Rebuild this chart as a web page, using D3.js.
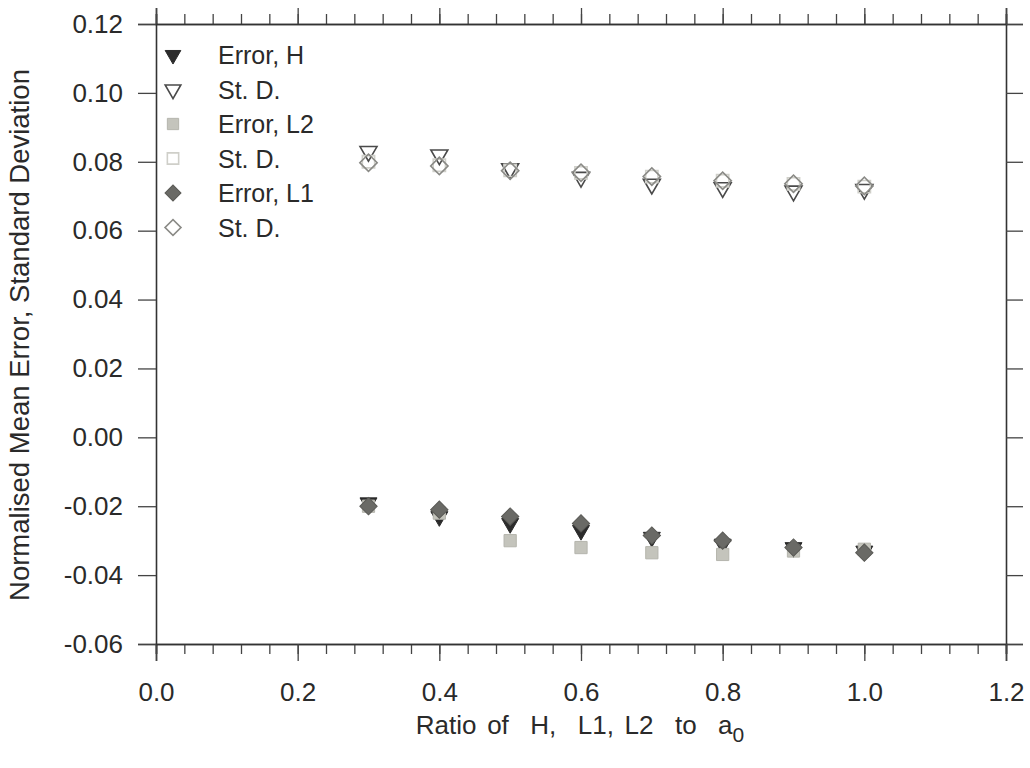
<!DOCTYPE html>
<html>
<head>
<meta charset="utf-8">
<script src="https://cdn.jsdelivr.net/npm/d3@7"></script>
<style>
  html, body { margin: 0; padding: 0; background: #ffffff; }
  svg text { font-family: "Liberation Sans", Arial, sans-serif; fill: #2a2a2a; }
</style>
</head>
<body>
<svg id="chart" width="1030" height="768"></svg>
<script>
// Ratio of H, L1, L2 to a0
const ratios = [0.3, 0.4, 0.5, 0.6, 0.7, 0.8, 0.9, 1.0];

// Normalised mean error and standard deviation per geometry parameter
const errorH  = [-0.019, -0.023, -0.025, -0.027, -0.029, -0.031, -0.032, -0.033];
const stdH    = [0.083, 0.082, 0.078, 0.0755, 0.0735, 0.0725, 0.0715, 0.072];
const errorL2 = [-0.020, -0.022, -0.030, -0.032, -0.0335, -0.034, -0.033, -0.0325];
const stdL2   = [0.080, 0.079, 0.0775, 0.0768, 0.0757, 0.0745, 0.0736, 0.0728];
const errorL1 = [-0.020, -0.021, -0.023, -0.025, -0.0285, -0.030, -0.032, -0.0335];
const stdL1   = [0.0797, 0.0788, 0.0774, 0.0768, 0.0757, 0.0745, 0.0736, 0.073];

const xTicks = [0.0, 0.2, 0.4, 0.6, 0.8, 1.0, 1.2];
const yTicks = [0.12, 0.10, 0.08, 0.06, 0.04, 0.02, 0.00, -0.02, -0.04, -0.06];

const legendLabels = ["Error, H", "St. D.", "Error, L2", "St. D.", "Error, L1", "St. D."];

const svg = d3.select("#chart");
const plotLeft = 156, plotRight = 1006, plotTop = 24, plotBottom = 644;

const x = d3.scaleLinear().domain([0, 1.2]).range([plotLeft, plotRight]);
const y = d3.scaleLinear().domain([-0.06, 0.12]).range([plotBottom, plotTop]);

const minorX = d3.range(0, 1.2001, 0.04);

// Axes: ticks point outward on all four sides
function styleAxis(g) {
  g.select(".domain").attr("stroke", "#333").attr("stroke-width", 1.6);
  g.selectAll(".tick line").attr("stroke", "#444").attr("stroke-width", 1.3);
}

// bottom
svg.append("g").attr("transform", `translate(0,${plotBottom})`)
  .call(d3.axisBottom(x).tickValues(minorX).tickSize(10).tickFormat(""))
  .call(styleAxis);
const bx = svg.append("g").attr("transform", `translate(0,${plotBottom})`)
  .call(d3.axisBottom(x).tickValues(xTicks).tickSize(17).tickPadding(22)
    .tickFormat(d3.format(".1f")))
  .call(styleAxis);
bx.selectAll("text").style("font-size", "26px").attr("fill", "#2a2a2a");

// top
svg.append("g").attr("transform", `translate(0,${plotTop})`)
  .call(d3.axisTop(x).tickValues(minorX).tickSize(10).tickFormat(""))
  .call(styleAxis);
svg.append("g").attr("transform", `translate(0,${plotTop})`)
  .call(d3.axisTop(x).tickValues(xTicks).tickSize(16).tickFormat(""))
  .call(styleAxis);

// left
const ly = svg.append("g").attr("transform", `translate(${plotLeft},0)`)
  .call(d3.axisLeft(y).tickValues(yTicks).tickSize(18).tickPadding(15)
    .tickFormat(d3.format(".2f")))
  .call(styleAxis);
ly.selectAll("text").style("font-size", "26px").attr("fill", "#2a2a2a")
  .text(d => d3.format(".2f")(d).replace("−", "-"));

// right
svg.append("g").attr("transform", `translate(${plotRight},0)`)
  .call(d3.axisRight(y).tickValues(yTicks).tickSize(17).tickFormat(""))
  .call(styleAxis);

// Axis titles
svg.append("text")
  .attr("transform", "translate(29,335) rotate(-90)")
  .attr("text-anchor", "middle")
  .style("font-size", "27.5px")
  .text("Normalised Mean Error, Standard Deviation");

const xt = svg.append("text")
  .attr("x", 580).attr("y", 734)
  .attr("text-anchor", "middle")
  .style("font-size", "26px")
  .style("word-spacing", "3.5px")
  .attr("xml:space", "preserve");
xt.append("tspan").text("Ratio of  H,  L1, L2  to  a");
xt.append("tspan").attr("dy", 8).style("font-size", "21px").text("0");

// Series definitions
const series = [
  { err: errorH,  std: stdH,  shape: d3.symbolTriangle, rot: 180, size: 125,
    errFill: "#2b2b2b", errStroke: "#2b2b2b", stdStroke: "#4a4a4a" },
  { err: errorL2, std: stdL2, shape: d3.symbolSquare, rot: 0, size: 150,
    errFill: "#c4c4bc", errStroke: "#b5b5ad", stdStroke: "#cfcfc9" },
  { err: errorL1, std: stdL1, shape: d3.symbolSquare, rot: 45, size: 150,
    errFill: "#6a6a66", errStroke: "#5a5a56", stdStroke: "#8a8a86" }
];

const plot = svg.append("g");
series.forEach(s => {
  const sym = d3.symbol().type(s.shape).size(s.size);
  plot.selectAll(null).data(ratios.map((r, i) => [r, s.std[i]])).enter()
    .append("path")
    .attr("d", sym)
    .attr("transform", d => `translate(${x(d[0])},${y(d[1])}) rotate(${s.rot})`)
    .attr("fill", "none")
    .attr("stroke", s.stdStroke).attr("stroke-width", 1.6);
  plot.selectAll(null).data(ratios.map((r, i) => [r, s.err[i]])).enter()
    .append("path")
    .attr("d", sym)
    .attr("transform", d => `translate(${x(d[0])},${y(d[1])}) rotate(${s.rot})`)
    .attr("fill", s.errFill)
    .attr("stroke", s.errStroke).attr("stroke-width", 1);
});

// Legend
const legendRows = [];
series.forEach(s => {
  legendRows.push({ s, filled: true });
  legendRows.push({ s, filled: false });
});
const lg = svg.append("g");
legendRows.forEach((row, i) => {
  const yy = 55 + i * 34.5;
  const s = row.s;
  lg.append("path")
    .attr("d", d3.symbol().type(s.shape).size(s.size * 0.85))
    .attr("transform", `translate(173,${yy}) rotate(${s.rot})`)
    .attr("fill", row.filled ? s.errFill : "#ffffff")
    .attr("stroke", row.filled ? s.errStroke : s.stdStroke)
    .attr("stroke-width", row.filled ? 1 : 1.6);
  lg.append("text")
    .attr("x", 218).attr("y", yy + 9)
    .style("font-size", "25px")
    .text(legendLabels[i]);
});
</script>
</body>
</html>
